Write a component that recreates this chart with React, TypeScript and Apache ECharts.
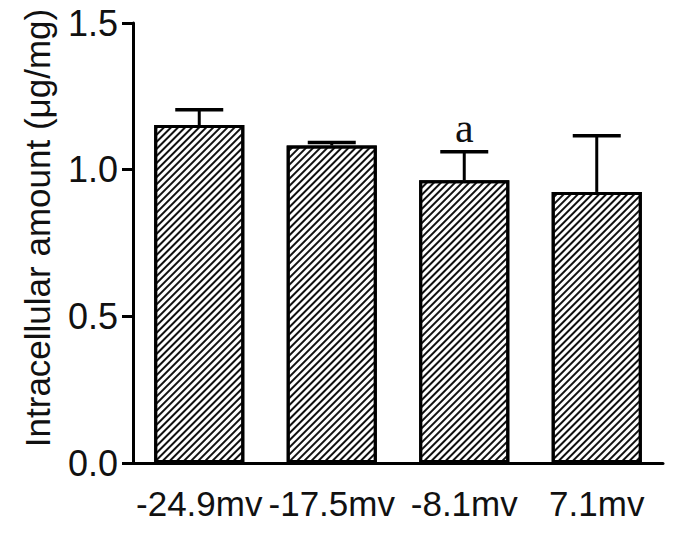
import React, { useEffect, useRef } from "react";
import * as echarts from "echarts";

const categories = ["-24.9mv", "-17.5mv", "-8.1mv", "7.1mv"];
const means = [1.152, 1.082, 0.964, 0.924];
const sds = [0.052, 0.011, 0.097, 0.192];
const sigLabels = ["", "", "a", ""];
const yTicks = [0, 0.5, 1.0, 1.5];
const yTitle = "Intracellular amount (μg/mg)";

export default function App() {
  const ref = useRef<HTMLDivElement>(null);
  useEffect(() => {
    if (!ref.current) return;
    const chart = echarts.init(ref.current, undefined, { renderer: "svg" });
    const font = "Liberation Sans, Arial, sans-serif";
    const errData = categories.map((c, i) => [i, means[i], sds[i]]);
    chart.setOption({
      animation: false,
      backgroundColor: "#fff",
      grid: { left: 133, right: 12, top: 23, bottom: 77 },
      graphic: [
        {
          type: "text",
          x: 37,
          y: 228,
          rotation: Math.PI / 2,
          style: {
            text: yTitle,
            fill: "#111",
            font: "35px 'Liberation Sans', Arial, sans-serif",
            textAlign: "center",
            textVerticalAlign: "middle",
          },
        },
      ],
      xAxis: {
        type: "category",
        data: categories,
        axisLine: { lineStyle: { color: "#000", width: 3 } },
        axisTick: { alignWithLabel: true, length: 12, lineStyle: { color: "#000", width: 3 } },
        axisLabel: { color: "#111", fontSize: 35, fontFamily: font, margin: 23, interval: 0 },
      },
      yAxis: {
        type: "value",
        min: yTicks[0],
        max: yTicks[yTicks.length - 1],
        interval: 0.5,
        axisLine: { show: true, lineStyle: { color: "#000", width: 3 } },
        axisTick: { show: true, length: 11, lineStyle: { color: "#000", width: 3 } },
        axisLabel: {
          color: "#111",
          fontSize: 36,
          fontFamily: font,
          margin: 15,
          formatter: (v: number) => v.toFixed(1),
        },
        splitLine: { show: false },
      },
      series: [
        {
          type: "bar",
          data: means,
          barCategoryGap: "32%",
          itemStyle: {
            color: "#fff",
            borderColor: "#000",
            borderWidth: 3,
            decal: {
              symbol: "rect",
              symbolSize: 1,
              color: "#111",
              backgroundColor: "#fff",
              dashArrayX: [1, 0],
              dashArrayY: [2, 3],
              rotation: -Math.PI / 4,
            },
          },
          z: 2,
        },
        {
          type: "custom",
          data: errData,
          z: 3,
          renderItem: (params: any, api: any) => {
            const i = api.value(0);
            const m = api.value(1);
            const s = api.value(2);
            const top = api.coord([i, m]);
            const cap = api.coord([i, m + s]);
            const hw = 24;
            const lbl = sigLabels[i];
            const children: any[] = [
              {
                type: "line",
                shape: { x1: top[0], y1: top[1], x2: cap[0], y2: cap[1] },
                style: { stroke: "#000", lineWidth: 3 },
              },
              {
                type: "line",
                shape: { x1: cap[0] - hw, y1: cap[1], x2: cap[0] + hw, y2: cap[1] },
                style: { stroke: "#000", lineWidth: 3.5 },
              },
            ];
            if (lbl) {
              children.push({
                type: "text",
                x: cap[0],
                y: cap[1] - 24,
                style: {
                  text: lbl,
                  fill: "#111",
                  font: "42px 'Liberation Serif', 'Times New Roman', serif",
                  textAlign: "center",
                  textVerticalAlign: "middle",
                },
              });
            }
            return { type: "group", children };
          },
        },
      ],
    });
    return () => chart.dispose();
  }, []);
  return (
    <div
      ref={ref}
      style={{ position: "fixed", left: 0, top: 0, width: 675, height: 540 }}
    />
  );
}
